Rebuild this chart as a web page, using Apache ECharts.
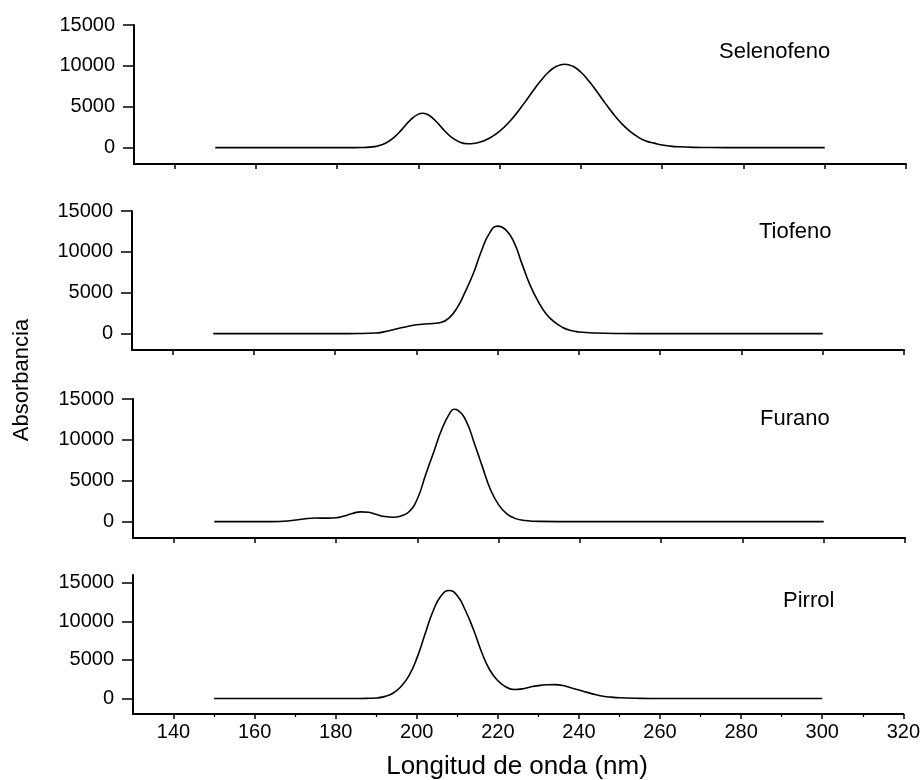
<!DOCTYPE html>
<html>
<head>
<meta charset="utf-8">
<script src="https://cdn.jsdelivr.net/npm/echarts@6/dist/echarts.min.js"></script>
<style>
html,body{margin:0;padding:0;background:#fff;}
#c{width:923px;height:780px;}
</style>
</head>
<body>
<div id="c"></div>
<script>
// ---- data ----
const seriesNames = ["Selenofeno", "Tiofeno", "Furano", "Pirrol"];

const wlSelenofeno = [150,170,180,184,186,188,190,192,194,196,198,200,201,202,204,206,208,210,212,214,216,218,220,222,224,226,228,230,232,234,236,238,240,242,244,246,248,250,252,254,256,258,260,262,264,268,272,280,300];
const absSelenofeno = [0,0,0,5,16,65,211,568,1252,2265,3363,4100,4200,4107,3380,2300,1323,709,477,542,827,1316,2020,2950,4100,5417,6803,8120,9220,9945,10200,9945,9220,8120,6803,5417,4100,2950,2020,1313,811,550,330,190,110,35,10,0,0];

const wlTiofeno = [150,170,180,186,190,192,194,196,198,200,202,204,206,208,210,212,214,216,218,220,222,224,226,228,230,232,234,236,238,240,244,250,260,300];
const absTiofeno = [0,0,0,10,70,220,440,680,900,1080,1180,1240,1360,1900,3150,5100,7350,10100,12300,13150,12700,11200,8500,5900,3900,2380,1400,760,380,200,70,15,0,0];

const wlFurano = [150,164,168,172,175,178,180,182,184,186,188,190,192,194,196,198,200,202,204,206,208,209,210,212,214,216,218,220,222,224,226,230,240,300];
const absFurano = [0,0,80,330,440,430,480,700,1000,1200,1150,870,620,540,700,1250,2800,5700,8500,11300,13300,13750,13600,12300,9600,6700,3900,2050,950,400,180,30,0,0];

const wlPirrol = [150,180,186,188,190,192,194,196,198,200,202,204,206,208,210,212,214,216,218,220,222,224,226,228,230,232,234,236,238,240,242,244,246,248,250,254,260,300];
const absPirrol = [0,0,10,30,70,250,650,1500,2900,5200,8300,11300,13300,14000,13300,11400,8900,6000,3700,2300,1500,1170,1250,1500,1680,1780,1800,1700,1400,1100,800,520,300,180,100,35,0,0];

const xMajorTicks = [140,160,180,200,220,240,260,280,300,320];
const xMinorTicks = [150,170,190,210,230,250,270,290,310];
const yTicks = [0,5000,10000,15000];
const yRanges = [[-2000,15000],[-2000,15000],[-2000,15000],[-2000,16000]];
const xTitle = "Longitud de onda (nm)";
const yTitle = "Absorbancia";

// ---- chart ----
const FONT = "'Liberation Sans', Arial, sans-serif";
const grids = [
  {left:134, top:25, width:772, height:139},
  {left:132, top:211, width:772, height:139},
  {left:133, top:399, width:772, height:139},
  {left:133, top:575, width:773, height:139}
];
const wls = [wlSelenofeno, wlTiofeno, wlFurano, wlPirrol];
const abss = [absSelenofeno, absTiofeno, absFurano, absPirrol];

const xAxes = grids.map((g,i)=>({
  type:'value', gridIndex:i, min:130, max:320, position:'bottom',
  axisLine:{show:true, onZero:false, lineStyle:{color:'#000', width:2}},
  axisTick:{show:true, customValues:xMajorTicks, length:5, inside:false, lineStyle:{color:'#000', width:1.5}},
  axisLabel:{show:i===3, customValues:xMajorTicks, formatter:v=>String(v), fontSize:20, color:'#000', fontFamily:FONT, margin:8},
  splitLine:{show:false}
}));
xAxes.push({
  type:'value', gridIndex:3, min:130, max:320, position:'bottom', offset:0,
  axisLine:{show:false, onZero:false},
  axisTick:{show:true, customValues:xMinorTicks, length:3, lineStyle:{color:'#000', width:1.2}},
  axisLabel:{show:false},
  splitLine:{show:false}
});

const yAxes = grids.map((g,i)=>({
  type:'value', gridIndex:i, min:yRanges[i][0], max:yRanges[i][1],
  axisLine:{show:true, onZero:false, lineStyle:{color:'#000', width:2}},
  axisTick:{show:true, customValues:yTicks, length:11, lineStyle:{color:'#000', width:1.5}},
  axisLabel:{show:true, customValues:yTicks, formatter:v=>String(v), fontSize:20, color:'#000', fontFamily:FONT, margin:19},
  splitLine:{show:false}
}));

const series = seriesNames.map((n,i)=>({
  name:n, type:'line', xAxisIndex:i, yAxisIndex:i,
  data: wls[i].map((x,k)=>[x, abss[i][k]]),
  showSymbol:false, smooth:0.5,
  lineStyle:{color:'#000', width:1.6}, silent:true, animation:false
}));

const labelPos = [[719,52],[759,232],[760,419],[783,601]];
const graphic = seriesNames.map((n,i)=>({
  type:'text', x:labelPos[i][0], y:labelPos[i][1],
  style:{text:n, font:'22px '+FONT, fill:'#000', align:'left', verticalAlign:'middle'}
}));
graphic.push({type:'text', x:517, y:767, style:{text:xTitle, font:'26px '+FONT, fill:'#000', align:'center', verticalAlign:'middle'}});
graphic.push({type:'text', x:22, y:380, rotation:Math.PI/2, style:{text:yTitle, font:'22px '+FONT, fill:'#000', align:'center', verticalAlign:'middle'}});

const chart = echarts.init(document.getElementById('c'), null, {renderer:'canvas'});
chart.setOption({
  animation:false,
  backgroundColor:'#fff',
  grid:grids.map(g=>Object.assign({containLabel:false}, g)),
  xAxis:xAxes, yAxis:yAxes, series:series, graphic:graphic
});
</script>
</body>
</html>
